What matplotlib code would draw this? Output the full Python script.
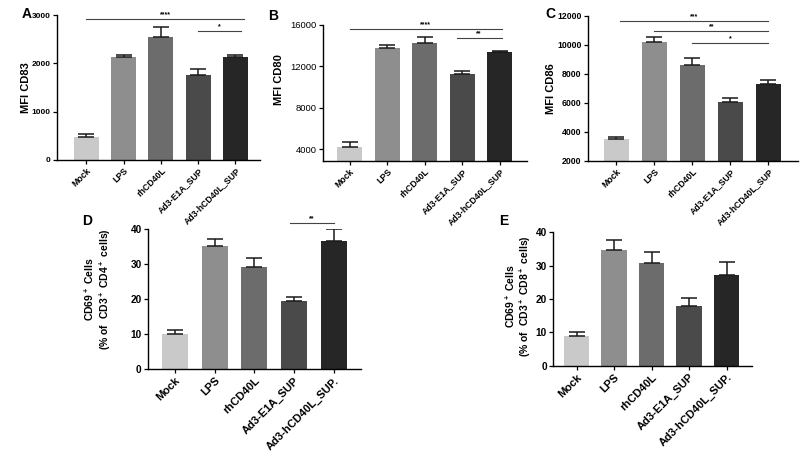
import matplotlib
matplotlib.use("Agg")
import matplotlib.pyplot as plt

plt.rcParams['font.family'] = ['Liberation Sans', 'DejaVu Sans']
plt.rcParams['font.weight'] = 'bold'
plt.rcParams['mathtext.fontset'] = 'custom'
plt.rcParams['mathtext.bf'] = 'Liberation Sans:bold'
plt.rcParams['mathtext.rm'] = 'Liberation Sans:bold'
plt.rcParams['mathtext.default'] = 'bf'

groups = ["Mock", "LPS", "rhCD40L", "Ad3-E1A_SUP", "Ad3-hCD40L_SUP"]
groups_t = ["Mock", "LPS", "rhCD40L", "Ad3-E1A_SUP", "Ad3-hCD40L_SUP."]
bar_colors = ["#c9c9c9", "#8e8e8e", "#6c6c6c", "#4a4a4a", "#262626"]

cd83_mean = [470, 2130, 2550, 1765, 2125]
cd83_err = [60, 40, 210, 115, 50]
cd80_mean = [4260, 13750, 14230, 11240, 13360]
cd80_err = [420, 290, 580, 350, 130]
cd86_mean = [3520, 10210, 8600, 6070, 7310]
cd86_err = [140, 300, 480, 250, 250]
cd4_mean = [10.2, 35.3, 29.3, 19.4, 36.8]
cd4_err = [1.1, 1.9, 2.5, 1.3, 3.2]
cd8_mean = [8.8, 34.6, 30.8, 18.0, 27.2]
cd8_err = [1.4, 3.2, 3.2, 2.3, 3.9]

# significance brackets: (from group, to group, stars, height)
sig_a = [(0, 4.23, "****", 2917), (3, 4.16, "*", 2669)]
sig_b = [(0, 4.06, "****", 15614), (2.85, 4.06, "**", 14745)]
sig_c = [(0.1, 4.0, "***", 11634), (1.0, 4.0, "**", 10966), (2.0, 4.0, "*", 10138)]
sig_d = [(2.9, 4.02, "**", 41.7)]

W, H = 800, 451
fig = plt.figure(figsize=(W / 100, H / 100), dpi=100)


def px_axes(l, r, t, b):
    return fig.add_axes([l / W, 1 - b / H, (r - l) / W, (b - t) / H])


def panel(box, means, errs, labels, ylim, yticks, xlim, ylabel, lab_xy,
          letter, letter_xy, tick_fs, xtick_fs, ylab_fs, sigs, width=0.67,
          tick_w='bold'):
    ax = px_axes(*box)
    x = list(range(len(means)))
    ax.bar(x, means, width=width, color=bar_colors, edgecolor='none', zorder=2)
    ax.errorbar(x, means, yerr=[[0] * len(errs), errs], fmt='none',
                ecolor='#1a1a1a', elinewidth=1.1, capsize=6, capthick=1.1, zorder=3)
    ax.set_xlim(*xlim)
    ax.set_ylim(*ylim)
    ax.set_yticks(yticks)
    ax.set_yticklabels([str(t) for t in yticks], fontsize=tick_fs, fontweight=tick_w)
    ax.set_xticks(x)
    ax.set_xticklabels(labels, rotation=45, ha='right', va='top',
                       rotation_mode='anchor', fontsize=xtick_fs, fontweight='bold')
    for s in ['top', 'right']:
        ax.spines[s].set_visible(False)
    for s in ['left', 'bottom']:
        ax.spines[s].set_linewidth(1.0)
    ax.tick_params(axis='both', length=3, width=0.9, pad=1.5)
    ax.set_ylabel(ylabel, fontsize=ylab_fs, fontweight='bold', linespacing=1.1)
    ax.yaxis.set_label_coords(*lab_xy)
    fig.text(letter_xy[0] / W, 1 - letter_xy[1] / H, letter, fontsize=10,
             fontweight='bold', ha='center', va='center')
    for x0, x1, stars, yv in sigs:
        ax.plot([x0, x1], [yv, yv], color='#444444', lw=0.8, clip_on=False)
        ax.annotate(stars, ((x0 + x1) / 2, yv), xytext=(0, 0.5),
                    textcoords='offset points', ha='center', va='bottom',
                    fontsize=5, fontweight='bold', annotation_clip=False)
    return ax


panel((57, 260, 15, 160), cd83_mean, cd83_err, groups, (0, 3000),
      [0, 1000, 2000, 3000], (-0.79, 4.66), "MFI CD83", (-0.13, 0.5),
      "A", (27, 14), 6, 6.3, 8, sig_a)
panel((323, 527, 25, 160.7), cd80_mean, cd80_err, groups, (2900, 16000),
      [4000, 8000, 12000, 16000], (-0.71, 4.73), "MFI CD80", (-0.19, 0.6),
      "B", (273, 16), 6.8, 6.3, 8, sig_b, tick_w='normal')
panel((588, 798, 15.7, 160.7), cd86_mean, cd86_err, groups, (2000, 12000),
      [2000, 4000, 6000, 8000, 10000, 12000], (-0.75, 4.78), "MFI CD86",
      (-0.15, 0.5), "C", (550, 14), 6.3, 6.3, 8, sig_c)
panel((148, 361, 229.3, 369.3), cd4_mean, cd4_err, groups_t, (0, 40),
      [0, 10, 20, 30, 40], (-0.68, 4.69),
      "CD69$^+$ Cells\n(% of  CD3$^+$ CD4$^+$ cells)", (-0.165, 0.57),
      "D", (87, 221), 7.3, 8, 7.5, sig_d, width=0.66)
panel((553.3, 752, 232.3, 365.7), cd8_mean, cd8_err, groups_t, (0, 40),
      [0, 10, 20, 30, 40], (-0.62, 4.68),
      "CD69$^+$ Cells\n(% of  CD3$^+$ CD8$^+$ cells)", (-0.10, 0.52),
      "E", (504, 221), 7.3, 8, 7.5, [])

fig.savefig("out.png", dpi=100)
